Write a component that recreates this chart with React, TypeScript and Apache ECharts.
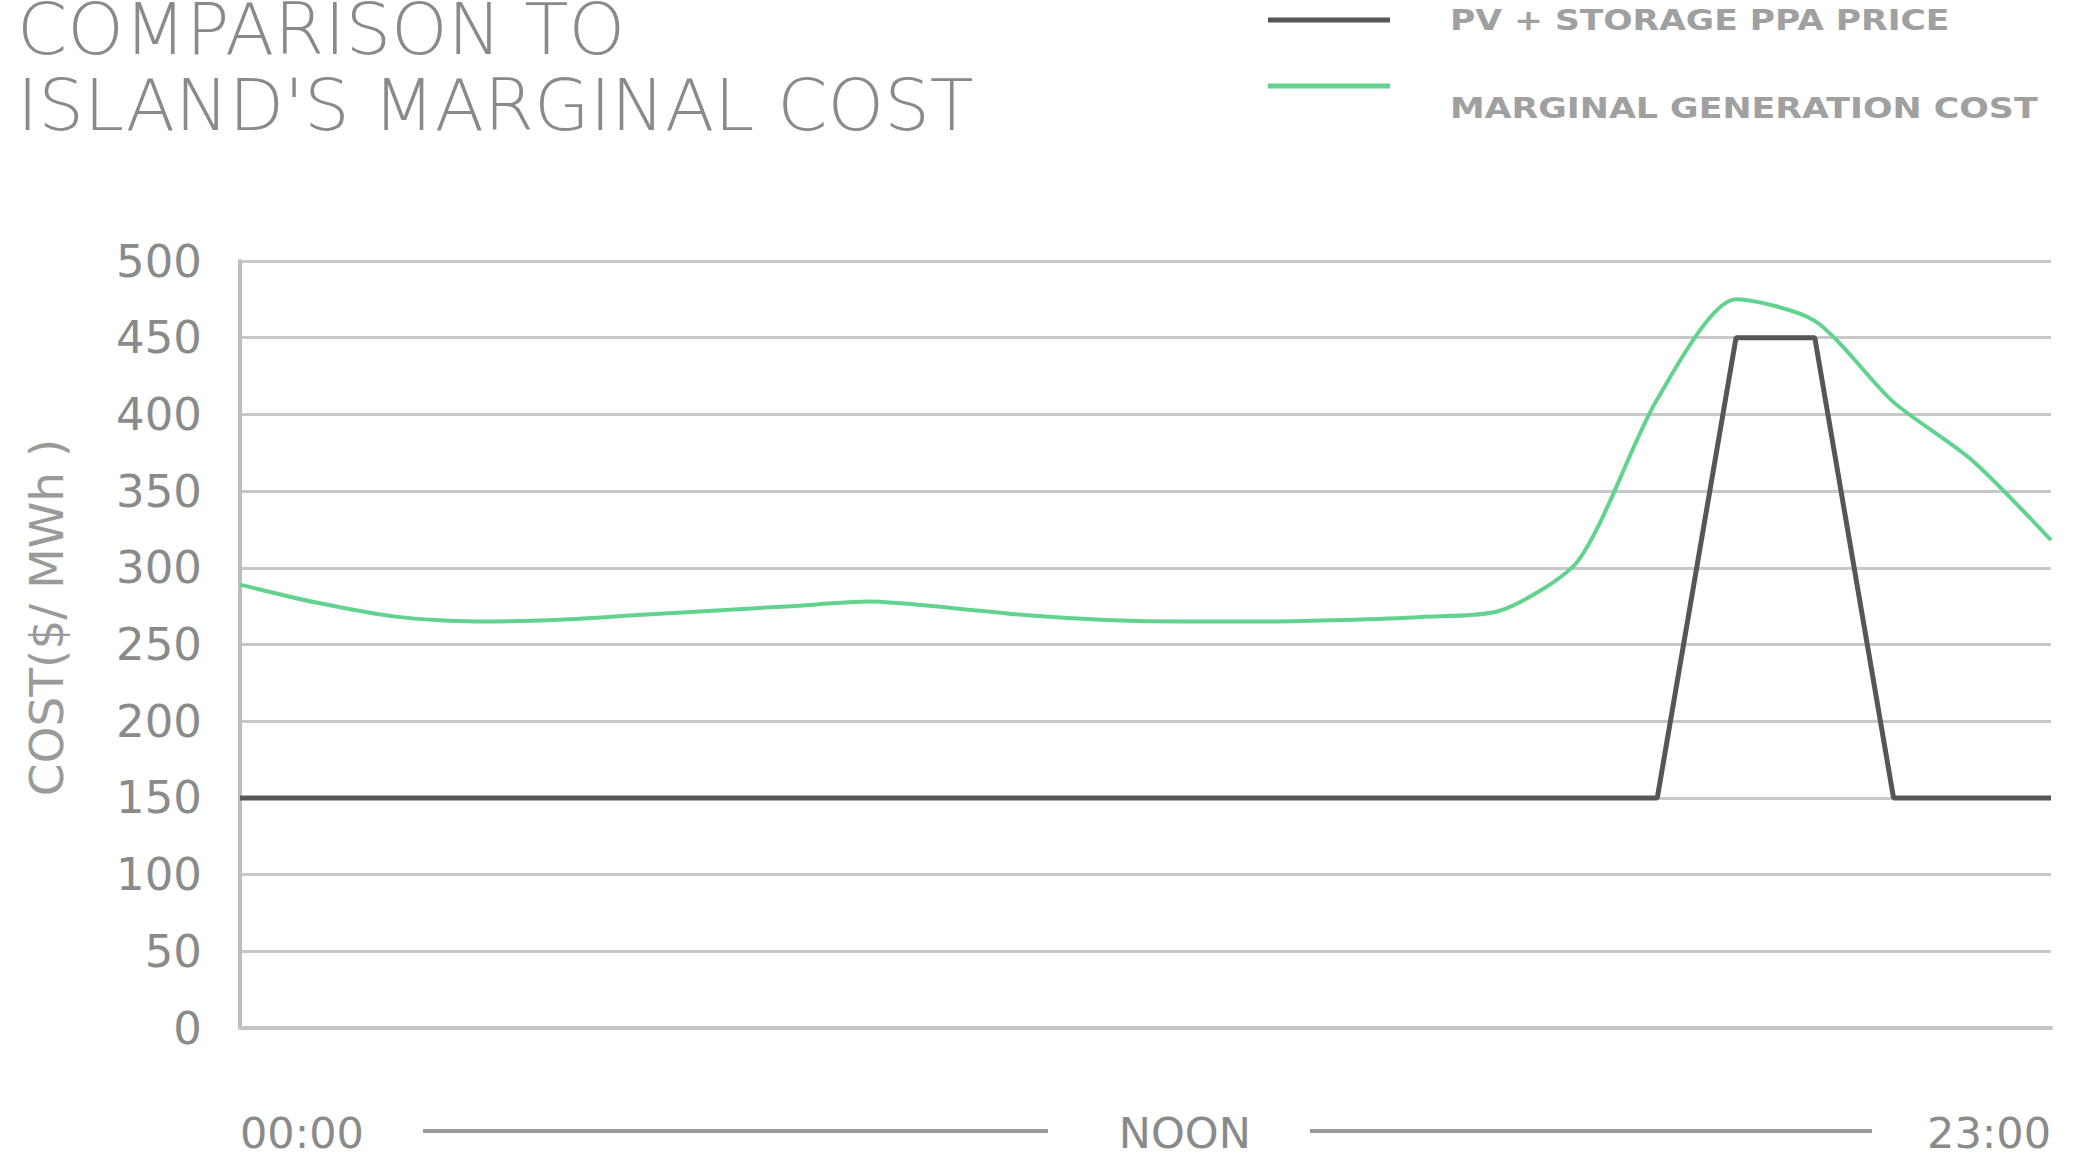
import React, { useEffect, useRef } from "react";
import * as echarts from "echarts";

// Hourly categories along the x axis
const hours: string[] = [
  "00:00", "01:00", "02:00", "03:00", "04:00", "05:00", "06:00", "07:00",
  "08:00", "09:00", "10:00", "11:00", "12:00", "13:00", "14:00", "15:00",
  "16:00", "17:00", "18:00", "19:00", "20:00", "21:00", "22:00", "23:00",
];

// PV + storage PPA price ($/MWh)
const ppaPrice: number[] = [
  150, 150, 150, 150, 150, 150, 150, 150, 150, 150, 150, 150,
  150, 150, 150, 150, 150, 150, 150, 450, 450, 150, 150, 150,
];

// Marginal generation cost ($/MWh)
const marginalCost: number[] = [
  289, 277, 268, 265, 266, 269, 272, 275, 278, 274, 269, 266,
  265, 265, 266, 268, 272, 305, 410, 475, 461, 408, 370, 318,
];

const yTicks = { min: 0, max: 500, interval: 50 };

const titleLines: string[] = ["COMPARISON TO", "ISLAND'S MARGINAL COST"];
const seriesNames: string[] = ["PV + STORAGE PPA PRICE", "MARGINAL GENERATION COST"];
const yAxisName = "COST($/ MWh )";

const FONT = "'DejaVu Sans', 'Noto Sans', sans-serif";
const GREY_TEXT = "#8a8a8a";
const DARK_LINE = "#565656";
const GREEN_LINE = "#62d38e";

export default function App() {
  const ref = useRef<HTMLDivElement | null>(null);

  useEffect(() => {
    document.body.style.margin = "0";
    const chart = echarts.init(ref.current!, null, { renderer: "svg" });

    const titleStyle = {
      fontFamily: FONT,
      fontSize: 72,
      fontWeight: 200,
      color: GREY_TEXT,
      lineHeight: 56,
    };

    const option: echarts.EChartsOption = {
      animation: false,
      backgroundColor: "#ffffff",
      title: [
        { text: titleLines[0], left: 17, top: 1, padding: 0, textStyle: titleStyle },
        { text: titleLines[1], left: 17, top: 77, padding: 0, textStyle: titleStyle },
      ],
      grid: { left: 240, right: 24, top: 261, bottom: 139, containLabel: false },
      xAxis: {
        type: "category",
        data: hours,
        boundaryGap: false,
        axisLine: { show: true, lineStyle: { color: "#c4c4c4", width: 4 } },
        axisTick: { show: false },
        splitLine: { show: false },
        axisLabel: {
          show: true,
          interval: (index: number) => index === 0 || index === 12 || index === hours.length - 1,
          formatter: (value: string, index: number) => (index === 12 ? "NOON" : value),
          margin: 83,
          fontFamily: FONT,
          fontSize: 43,
          color: GREY_TEXT,
          alignMinLabel: "left",
          alignMaxLabel: "right",
        },
      },
      yAxis: {
        type: "value",
        min: yTicks.min,
        max: yTicks.max,
        interval: yTicks.interval,
        name: yAxisName,
        nameLocation: "middle",
        nameRotate: 90,
        nameGap: 170,
        nameTextStyle: {
          fontFamily: FONT,
          fontSize: 47,
          color: "#9a9a9a",
          padding: [0, 0, 0, 54],
        },
        axisLine: { show: true, lineStyle: { color: "#bdbdbd", width: 4 } },
        axisTick: { show: false },
        splitLine: { show: true, lineStyle: { color: "#c8c8c8", width: 3 } },
        axisLabel: {
          margin: 38,
          fontFamily: FONT,
          fontSize: 45,
          color: GREY_TEXT,
        },
      },
      series: [
        {
          name: seriesNames[0],
          type: "line",
          data: ppaPrice,
          showSymbol: false,
          lineStyle: { color: DARK_LINE, width: 5 },
          itemStyle: { color: DARK_LINE },
          z: 3,
        },
        {
          name: seriesNames[1],
          type: "line",
          data: marginalCost,
          showSymbol: false,
          smooth: 0.25,
          lineStyle: { color: GREEN_LINE, width: 4 },
          itemStyle: { color: GREEN_LINE },
          z: 4,
        },
      ],
      graphic: [
        // legend swatches and labels
        {
          type: "line",
          shape: { x1: 1268, y1: 20, x2: 1390, y2: 20 },
          style: { stroke: DARK_LINE, lineWidth: 5 },
        },
        {
          type: "line",
          shape: { x1: 1268, y1: 86, x2: 1390, y2: 86 },
          style: { stroke: GREEN_LINE, lineWidth: 5 },
        },
        {
          type: "text",
          x: 1450,
          y: 20,
          scaleX: 1.19,
          style: {
            text: seriesNames[0],
            fontFamily: FONT,
            fontSize: 29,
            fontWeight: "bold",
            fill: "#a0a0a0",
            align: "left",
            verticalAlign: "middle",
          },
        },
        {
          type: "text",
          x: 1450,
          y: 108,
          scaleX: 1.2,
          style: {
            text: seriesNames[1],
            fontFamily: FONT,
            fontSize: 29,
            fontWeight: "bold",
            fill: "#a0a0a0",
            align: "left",
            verticalAlign: "middle",
          },
        },
        // rules between the time labels
        {
          type: "line",
          shape: { x1: 423, y1: 1131, x2: 1048, y2: 1131 },
          style: { stroke: "#9a9a9a", lineWidth: 4 },
        },
        {
          type: "line",
          shape: { x1: 1310, y1: 1131, x2: 1872, y2: 1131 },
          style: { stroke: "#9a9a9a", lineWidth: 4 },
        },
      ],
    };

    chart.setOption(option);
    return () => chart.dispose();
  }, []);

  return (
    <div
      ref={ref}
      style={{ position: "absolute", left: 0, top: 0, width: 2075, height: 1167, background: "#fff" }}
    />
  );
}
